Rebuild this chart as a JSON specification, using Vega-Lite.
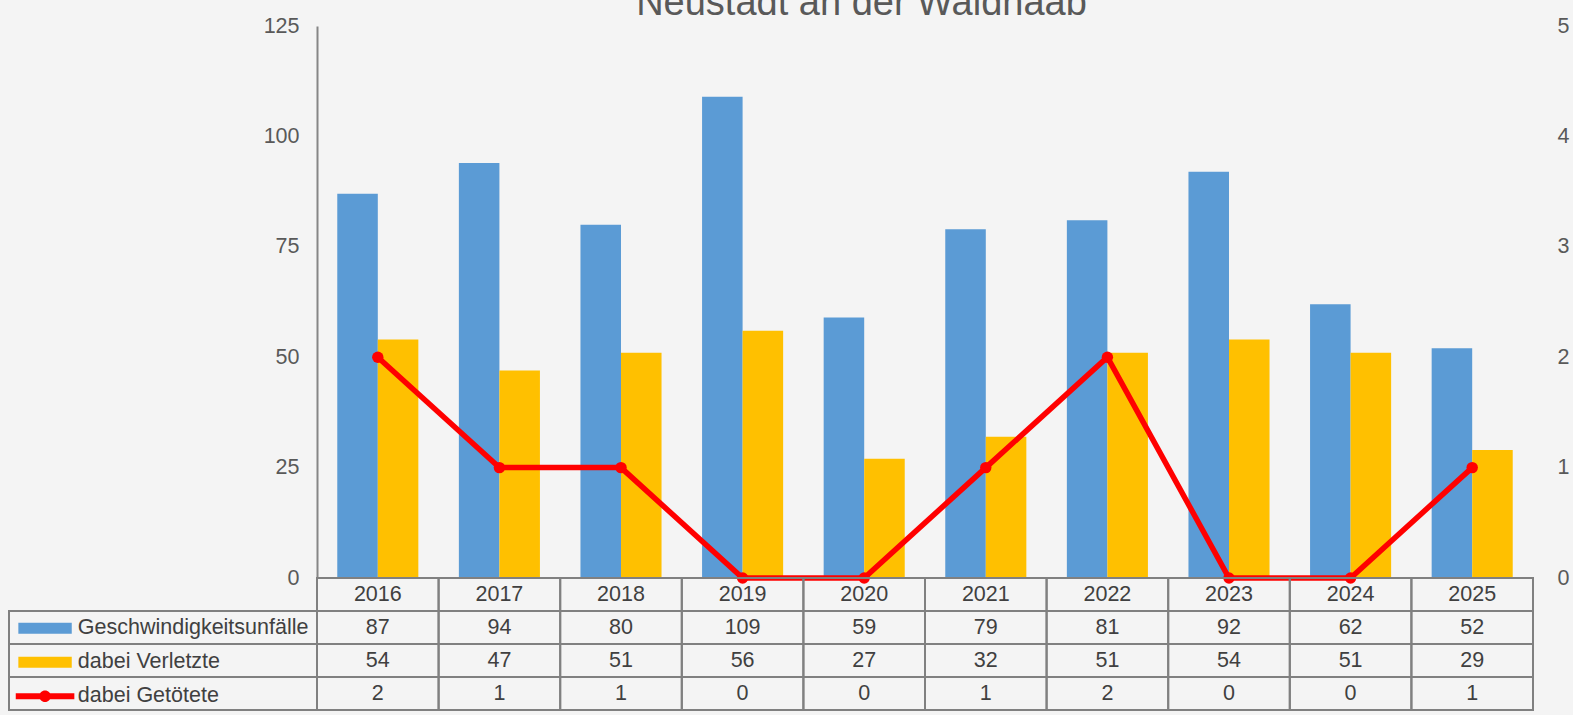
{
  "$schema": "https://vega.github.io/schema/vega-lite/v6.json",
  "background": "#f4f4f4",
  "padding": {"left": 8, "top": -15, "right": 20, "bottom": 20},
  "config": {"font": "Liberation Sans", "view": {"stroke": null}, "concat": {"spacing": 0}},
  "title": {"text": "Neustadt an der Waldnaab", "fontSize": 38, "fontWeight": "normal", "color": "#595959", "anchor": "middle", "dx": 73, "baseline": "alphabetic", "offset": -38},
  "datasets": {
    "werte": [
      {"Jahr": "2016", "Geschwindigkeitsunfälle": 87, "dabei Verletzte": 54, "dabei Getötete": 2},
      {"Jahr": "2017", "Geschwindigkeitsunfälle": 94, "dabei Verletzte": 47, "dabei Getötete": 1},
      {"Jahr": "2018", "Geschwindigkeitsunfälle": 80, "dabei Verletzte": 51, "dabei Getötete": 1},
      {"Jahr": "2019", "Geschwindigkeitsunfälle": 109, "dabei Verletzte": 56, "dabei Getötete": 0},
      {"Jahr": "2020", "Geschwindigkeitsunfälle": 59, "dabei Verletzte": 27, "dabei Getötete": 0},
      {"Jahr": "2021", "Geschwindigkeitsunfälle": 79, "dabei Verletzte": 32, "dabei Getötete": 1},
      {"Jahr": "2022", "Geschwindigkeitsunfälle": 81, "dabei Verletzte": 51, "dabei Getötete": 2},
      {"Jahr": "2023", "Geschwindigkeitsunfälle": 92, "dabei Verletzte": 54, "dabei Getötete": 0},
      {"Jahr": "2024", "Geschwindigkeitsunfälle": 62, "dabei Verletzte": 51, "dabei Getötete": 0},
      {"Jahr": "2025", "Geschwindigkeitsunfälle": 52, "dabei Verletzte": 29, "dabei Getötete": 1}
    ]
  },
  "spacing": 0,
  "bounds": "flush",
  "columns": 2,
  "concat": [
    {
      "width": 308,
      "height": 552,
      "data": {"values": []},
      "mark": {"type": "point", "opacity": 0},
      "encoding": {}
    },
    {
      "width": 1216,
      "height": 552,
      "data": {"name": "werte"},
      "layer": [
        {
          "transform": [{"fold": ["Geschwindigkeitsunfälle", "dabei Verletzte"], "as": ["Serie", "Anzahl"]}],
          "mark": {"type": "bar"},
          "encoding": {
            "x": {"field": "Jahr", "type": "nominal", "scale": {"paddingInner": 0.3333, "paddingOuter": 0.1667}, "axis": null},
            "xOffset": {"field": "Serie", "type": "nominal", "scale": {"domain": ["Geschwindigkeitsunfälle", "dabei Verletzte"], "paddingInner": 0, "paddingOuter": 0}},
            "y": {
              "field": "Anzahl", "type": "quantitative",
              "scale": {"domain": [0, 125], "nice": false},
              "axis": {"orient": "left", "values": [0, 25, 50, 75, 100, 125], "title": null, "grid": false, "ticks": false, "domain": true, "domainColor": "#868686", "domainWidth": 2, "labelPadding": 18, "labelFontSize": 21.5, "labelColor": "#595959", "labelFont": "Liberation Sans"}
            },
            "color": {
              "field": "Serie", "type": "nominal",
              "scale": {"domain": ["Geschwindigkeitsunfälle", "dabei Verletzte", "dabei Getötete"], "range": ["#5b9bd5", "#ffc000", "#ff0000"]},
              "legend": {
                "orient": "none", "legendX": 25.3, "legendY": 591.5, "direction": "vertical", "title": null,
                "padding": 0, "symbolSize": 400, "symbolStrokeWidth": 0, "labelOffset": 22, "labelFontSize": 21.5,
                "labelColor": "#404040", "labelFont": "Liberation Sans", "rowPadding": 11, "labelLimit": 400,
                "encode": {
                  "symbols": {
                    "update": {
                      "shape": {"signal": "datum.label === 'dabei Getötete' ? 'M-2.93,-0.3H2.93V0.3H-2.93Z M0.58,0A0.58,0.58,0,1,1,-0.58,0A0.58,0.58,0,1,1,0.58,0Z' : 'M-2.67,-0.55H2.67V0.55H-2.67Z'"},
                      "fill": {"scale": "color", "field": "value"},
                      "opacity": {"value": 1},
                      "strokeWidth": {"value": 0}
                    }
                  }
                }
              }
            }
          }
        },
        {
          "mark": {"type": "line", "strokeWidth": 5.5, "point": {"filled": true, "size": 130, "opacity": 1}},
          "encoding": {
            "x": {"field": "Jahr", "type": "nominal"},
            "y": {
              "field": "dabei Getötete", "type": "quantitative",
              "scale": {"domain": [0, 5], "nice": false},
              "axis": {"orient": "right", "values": [0, 1, 2, 3, 4, 5], "title": null, "grid": false, "ticks": false, "domain": false, "labelPadding": 24, "labelFontSize": 21.5, "labelColor": "#595959", "labelFont": "Liberation Sans"}
            },
            "color": {"datum": "dabei Getötete", "type": "nominal"}
          }
        }
      ],
      "resolve": {"scale": {"y": "independent"}}
    },
    {
      "width": 308,
      "height": 132,
      "data": {"name": "werte"},
      "transform": [
        {"fold": ["Geschwindigkeitsunfälle", "dabei Verletzte", "dabei Getötete"], "as": ["Zeile", "Wert"]},
        {"aggregate": [{"op": "count", "as": "n"}], "groupby": ["Zeile"]}
      ],
      "mark": {"type": "rect", "fill": "transparent", "stroke": "#808080", "strokeWidth": 2},
      "encoding": {
        "y": {"field": "Zeile", "type": "nominal", "scale": {"domain": ["Jahr", "Geschwindigkeitsunfälle", "dabei Verletzte", "dabei Getötete"], "paddingInner": 0, "paddingOuter": 0}, "axis": null}
      }
    },
    {
      "width": 1216,
      "height": 132,
      "data": {"name": "werte"},
      "transform": [
        {"fold": ["Jahr", "Geschwindigkeitsunfälle", "dabei Verletzte", "dabei Getötete"], "as": ["Zeile", "Wert"]}
      ],
      "encoding": {
        "x": {"field": "Jahr", "type": "nominal", "scale": {"paddingInner": 0, "paddingOuter": 0}, "axis": null},
        "y": {"field": "Zeile", "type": "nominal", "scale": {"domain": ["Jahr", "Geschwindigkeitsunfälle", "dabei Verletzte", "dabei Getötete"], "paddingInner": 0, "paddingOuter": 0}, "axis": null}
      },
      "layer": [
        {"mark": {"type": "rect", "fill": "transparent", "stroke": "#808080", "strokeWidth": 2}},
        {"mark": {"type": "text", "fontSize": 21.5, "color": "#404040", "font": "Liberation Sans"}, "encoding": {"text": {"field": "Wert"}}}
      ]
    }
  ]
}
